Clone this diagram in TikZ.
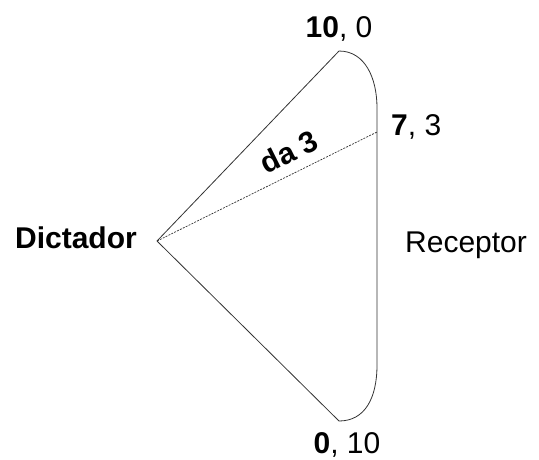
\documentclass[tikz,border=0pt]{standalone}
\usepackage{fontspec}
\setmainfont{Liberation Sans}
\begin{document}
\begin{tikzpicture}[x=1pt,y=-1pt,
  edge/.style={draw=black!80, line width=0.8pt},
  lbl/.style={font=\fontsize{30}{34}\selectfont, inner sep=0pt}]
\useasboundingbox (0,0) rectangle (539,459);
\coordinate (apex) at (157,241);
\coordinate (top) at (339,51);
\coordinate (bot) at (339,421);
\coordinate (mid) at (377,132);
\draw[edge] (apex) -- (top);
\draw[edge] (apex) -- (bot);
\draw[edge] (top) .. controls (365,51) and (377,78) .. (377,108) -- (377,365) .. controls (377,398) and (365,421) .. (bot);
\draw[edge, dashed, dash pattern=on 2pt off 1.2pt, line width=0.7pt] (apex) -- (mid);
\node[lbl, anchor=base east] (dict) at (137,248) {\textbf{Dictador}};
\node[lbl, anchor=base west] (rec) at (405,252) {Receptor};
\node[lbl, anchor=base] (l10) at (339,37) {\textbf{10}, 0};
\node[lbl, anchor=base west] (l73) at (391,135) {\textbf{7}, 3};
\node[lbl, anchor=base] (l010) at (347,453) {\textbf{0}, 10};
\node[lbl, rotate=26.5] (da) at (289,152) {\textbf{da 3}};
\end{tikzpicture}
\end{document}
